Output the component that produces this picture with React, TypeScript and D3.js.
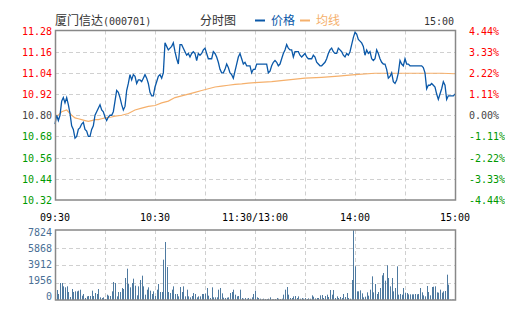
import React from "react";
import * as d3 from "d3";

const prevClose = 10.8;
const priceTicks = [11.28, 11.16, 11.04, 10.92, 10.8, 10.68, 10.56, 10.44, 10.32];
const pctTicks = ["4.44%", "3.33%", "2.22%", "1.11%", "0.00%", "-1.11%", "-2.22%", "-3.33%", "-4.44%"];
const timeTicks = [
  { m: 0, label: "09:30" },
  { m: 60, label: "10:30" },
  { m: 120, label: "11:30/13:00" },
  { m: 180, label: "14:00" },
  { m: 240, label: "15:00" },
];
const volTicks = [0, 1956, 3912, 5868, 7824];

// price per minute (0..240)
const prices = [
  10.75, 10.8, 10.77, 10.8, 10.88, 10.9, 10.87, 10.9, 10.86, 10.81,
  10.74, 10.72, 10.67, 10.68, 10.72, 10.73, 10.75, 10.76, 10.72, 10.71,
  10.68, 10.68, 10.72, 10.74, 10.8, 10.82, 10.84, 10.86, 10.83, 10.82,
  10.79, 10.77, 10.79, 10.8, 10.8, 10.82, 10.88, 10.94, 10.93, 10.9,
  10.86, 10.83, 10.85, 10.94, 10.98, 11.03, 11.0, 11.03, 11.02, 10.98,
  11.0, 11.0, 10.99, 11.01, 11.03, 11.01, 10.98, 10.93, 10.91, 10.91,
  10.96, 10.99, 11.02, 11.03, 11.01, 11.04, 11.21, 11.19, 11.17, 11.18,
  11.19, 11.21, 11.16, 11.12, 11.09, 11.2, 11.2, 11.18, 11.16, 11.14,
  11.15, 11.13, 11.15, 11.16, 11.15, 11.11, 11.15, 11.14, 11.15, 11.17,
  11.18, 11.15, 11.12, 11.12, 11.12, 11.16, 11.15, 11.13, 11.1, 11.06,
  11.04, 11.04, 11.06, 11.09, 11.07, 11.04, 11.03, 11.01, 11.05, 11.09,
  11.13, 11.15, 11.12, 11.09, 11.1, 11.08, 11.08, 11.08, 11.04, 11.06,
  11.06, 11.09, 11.09, 11.09, 11.09, 11.09, 11.09, 11.09, 11.04, 11.05,
  11.08, 11.1, 11.11, 11.1, 11.08, 11.09, 11.12, 11.15, 11.17, 11.2,
  11.18, 11.17, 11.17, 11.13, 11.16, 11.16, 11.16, 11.14, 11.13, 11.14,
  11.15, 11.13, 11.12, 11.12, 11.12, 11.14, 11.13, 11.1, 11.09, 11.08,
  11.08, 11.09, 11.1, 11.12, 11.15, 11.17, 11.18, 11.16, 11.15, 11.15,
  11.18, 11.17, 11.16, 11.14, 11.13, 11.15, 11.14, 11.16, 11.2, 11.24,
  11.27, 11.26, 11.23, 11.22, 11.21, 11.19, 11.14, 11.17, 11.15, 11.16,
  11.12, 11.11, 11.12, 11.17, 11.15, 11.12, 11.1, 11.09, 11.09, 11.06,
  11.01, 11.02, 11.04, 10.99, 10.98, 11.0, 11.04, 11.11, 11.09, 11.08,
  11.12, 11.09, 11.09, 11.08, 11.08, 11.08, 11.08, 11.08, 11.08, 11.08,
  11.08, 11.07, 11.04, 10.95, 10.97, 10.97, 10.98, 10.97, 10.96, 10.92,
  10.89, 10.92, 10.95, 10.99, 10.97, 10.89, 10.91, 10.91, 10.91, 10.91,
  10.92,
];

// average price line, read at these minutes
const avgMinutes = [0, 2, 4, 7, 8, 10, 12, 14, 16, 18, 20, 22, 24, 26, 28, 30, 34, 36, 40, 44, 48, 52, 56, 60,
  64, 68, 72, 76, 80, 84, 88, 92, 96, 100, 104, 108, 112, 116, 120, 130, 140, 150, 160, 170, 180, 192, 220, 232, 240];
const avgValues = [10.8, 10.8, 10.82, 10.83, 10.82, 10.8, 10.785, 10.78, 10.775, 10.77, 10.765, 10.77, 10.775, 10.775, 10.78, 10.785, 10.79, 10.795, 10.8, 10.81, 10.83, 10.84, 10.85, 10.855,
  10.87, 10.88, 10.9, 10.91, 10.92, 10.93, 10.94, 10.95, 10.96, 10.965, 10.97, 10.975, 10.978, 10.982, 10.985, 10.99, 11.0, 11.01, 11.015, 11.022, 11.03, 11.038, 11.038, 11.038, 11.035];

const volumes = [
  1340, 1118, 671, 1900, 1900, 1528, 1416, 1528, 894, 335,
  1230, 894, 969, 969, 1043, 1155, 484, 671, 224, 410,
  447, 447, 1043, 447, 782, 671, 1230, 298, 224, 298,
  112, 596, 484, 447, 969, 2012, 1900, 410, 894, 894,
  1341, 1230, 2459, 3502, 1788, 1416, 1900, 2385, 1602, 522,
  1528, 2236, 2720, 1528, 596, 1155, 1416, 1043, 671, 969,
  447, 1155, 1788, 894, 894, 4508, 6483, 3689, 894, 782,
  1155, 1528, 671, 671, 410, 1453, 894, 1528, 410, 1155,
  410, 298, 447, 782, 671, 298, 410, 410, 671, 671,
  708, 1341, 484, 224, 1416, 298, 298, 298, 1155, 1341,
  745, 261, 224, 261, 298, 782, 894, 1155, 596, 410,
  447, 1155, 224, 149, 224, 149, 224, 149, 298, 671,
  1043, 298, 224, 149, 75, 149, 112, 112, 149, 298,
  75, 75, 112, 224, 149, 112, 149, 596, 1155, 1453,
  596, 224, 224, 410, 447, 224, 410, 149, 224, 149,
  224, 112, 186, 149, 522, 373, 186, 224, 224, 522,
  559, 224, 447, 596, 335, 1118, 596, 1118, 224, 410,
  224, 335, 224, 671, 335, 782, 224, 149, 2236, 7824,
  3763, 969, 969, 1081, 745, 298, 373, 857, 484, 1155,
  2645, 857, 1788, 671, 894, 1341, 2757, 3018, 2161, 3875,
  2459, 1528, 2459, 969, 1341, 3763, 596, 671, 596, 1341,
  820, 782, 633, 633, 633, 633, 671, 633, 671, 1341,
  857, 522, 410, 1565, 894, 522, 1453, 1490, 1528, 857,
  820, 1155, 820, 969, 1006, 2832, 1714, 37, 37, 37,
  1956,
];

const RED = "#ff0000";
const GREEN = "#009900";
const GRAY = "#444444";
const BLUE = "#0a58a8";
const ORANGE = "#f5b06c";
const VOLC = "#4f7aa0";
const GRID = "#d0d0d0";
const BORDER = "#888888";
const MONO = "'DejaVu Sans Mono', monospace";
const CJK = "'Noto Sans CJK SC', sans-serif";

export default function App() {
  const L = 55, R = 455, T = 30.5, B = 200;
  const VT = 230, VB = 300;
  const x = d3.scaleLinear().domain([0, 240]).range([L, R]);
  const y = d3.scaleLinear().domain([10.32, 11.28]).range([B, T]);
  const vy = d3.scaleLinear().domain([0, 7824]).range([VB, VT]);
  // volume labels are spread evenly inside the box height
  const vLabelY = d3.scaleLinear().domain([0, 7824]).range([VB, VT + 6]);

  const priceLine = d3.line<number>().x((_, i) => x(i)).y((d) => y(d))(prices) || "";
  const avgLine = d3.line<number>().x((_, i) => x(avgMinutes[i])).y((d) => y(d))(avgValues) || "";

  const colorFor = (v: number) => (Math.abs(v - prevClose) < 1e-6 ? GRAY : v > prevClose ? RED : GREEN);
  const vGrid = d3.range(1, 8).map((i) => L + i * 50);

  return (
    <svg width={505} height={330} style={{ position: "absolute", left: 0, top: 0, background: "#fff" }}>
      {/* header */}
      <text x={55} y={25} fontFamily={CJK} fontSize={12} fill="#333">厦门信达</text>
      <text x={103} y={25} fontFamily={MONO} fontSize={10} fill="#333">(000701)</text>
      <text x={200} y={25} fontFamily={CJK} fontSize={12} fill="#333">分时图</text>
      <line x1={255} x2={265} y1={20.5} y2={20.5} stroke={BLUE} strokeWidth={2} />
      <text x={271} y={25} fontFamily={CJK} fontSize={12} fill={BLUE}>价格</text>
      <line x1={300} x2={310} y1={20.5} y2={20.5} stroke={ORANGE} strokeWidth={2} />
      <text x={316} y={25} fontFamily={CJK} fontSize={12} fill={ORANGE}>均线</text>
      <text x={454} y={25} textAnchor="end" fontFamily={MONO} fontSize={10} fill="#333">15:00</text>

      {/* price grid */}
      {priceTicks.slice(1, -1).map((t) => (
        <line key={"h" + t} x1={L} x2={R} y1={Math.round(y(t)) + 0.5} y2={Math.round(y(t)) + 0.5} stroke={GRID} strokeDasharray="4,3" />
      ))}
      {vGrid.map((gx) => (
        <line key={"v" + gx} x1={gx + 0.5} x2={gx + 0.5} y1={T} y2={B} stroke={GRID} strokeDasharray="4,3" />
      ))}
      <path d={avgLine} fill="none" stroke={ORANGE} strokeWidth={1.2} />
      <path d={priceLine} fill="none" stroke={BLUE} strokeWidth={1.3} />
      <rect x={L + 0.5} y={T} width={R - L} height={B - T} fill="none" stroke={BORDER} strokeWidth={1.5} />

      {priceTicks.map((t) => (
        <text key={"l" + t} x={52} y={y(t) + 4} textAnchor="end" fontFamily={MONO} fontSize={10} fill={colorFor(t)}>
          {t.toFixed(2)}
        </text>
      ))}
      {priceTicks.map((t, i) => (
        <text key={"r" + t} x={469} y={y(t) + 4} fontFamily={MONO} fontSize={10} fill={colorFor(t)}>
          {pctTicks[i]}
        </text>
      ))}

      {timeTicks.map((t) => (
        <text key={t.label} x={x(t.m)} y={221} textAnchor="middle" fontFamily={MONO} fontSize={10} fill="#000">
          {t.label}
        </text>
      ))}

      {/* volume */}
      {volTicks.slice(1, -1).map((t) => (
        <line key={"vh" + t} x1={L} x2={R} y1={Math.round(vy(t)) + 0.5} y2={Math.round(vy(t)) + 0.5} stroke={GRID} strokeDasharray="4,3" />
      ))}
      {vGrid.map((gx) => (
        <line key={"vv" + gx} x1={gx + 0.5} x2={gx + 0.5} y1={VT} y2={VB} stroke={GRID} strokeDasharray="4,3" />
      ))}
      {volumes.map((v, i) => (
        <rect key={"b" + i} x={Math.round(x(i))} y={vy(v)} width={1} height={VB - vy(v)} fill={VOLC} />
      ))}
      <rect x={L + 0.5} y={VT} width={R - L} height={VB - VT} fill="none" stroke={BORDER} strokeWidth={1.5} />
      {volTicks.map((t) => (
        <text key={"vl" + t} x={52} y={vLabelY(t)} textAnchor="end" fontFamily={MONO} fontSize={10} fill="#4a6f96">
          {t}
        </text>
      ))}
    </svg>
  );
}
